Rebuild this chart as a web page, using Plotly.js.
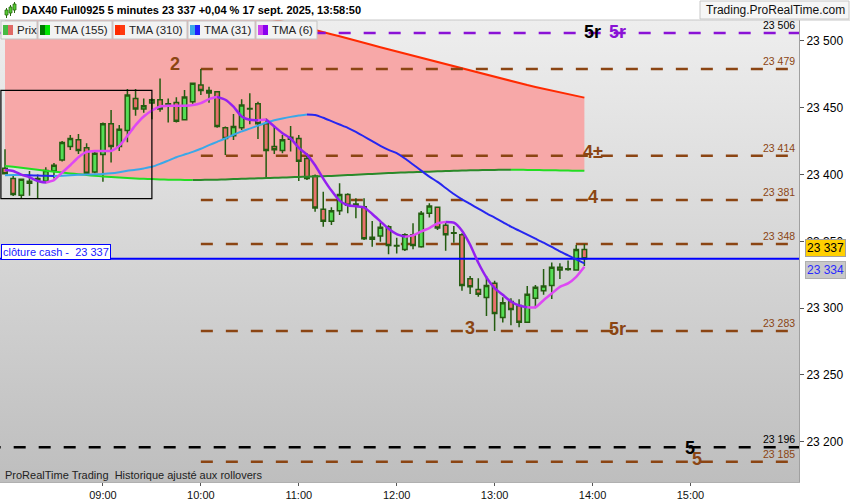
<!DOCTYPE html>
<html><head><meta charset="utf-8">
<script src="https://cdn.plot.ly/plotly-3.0.1.min.js"></script>
<style>html,body{margin:0;padding:0;background:#fff}#chart{width:850px;height:500px}</style>
</head><body><div id="chart"></div>
<script>
const day = '2025-09-17';
const times = [
 '08:00','08:05','08:10','08:15','08:20','08:25','08:30','08:35','08:40','08:45','08:50','08:55',
 '09:00','09:05','09:10','09:15','09:20','09:25','09:30','09:35','09:40','09:45','09:50','09:55',
 '10:00','10:05','10:10','10:15','10:20','10:25','10:30','10:35','10:40','10:45','10:50','10:55',
 '11:00','11:05','11:10','11:15','11:20','11:25','11:30','11:35','11:40','11:45','11:50','11:55',
 '12:00','12:05','12:10','12:15','12:20','12:25','12:30','12:35','12:40','12:45','12:50','12:55',
 '13:00','13:05','13:10','13:15','13:20','13:25','13:30','13:35','13:40','13:45','13:50','13:55'];
const openP = [
 23404.7,23397,23384.5,23395,23396,23395,23402.7,23411,23421,23426,23420,23402,
 23415,23438,23421,23433,23457,23449,23453.6,23456,23452,23454,23441,23454.6,
 23467,23463,23462,23435,23429,23435,23449,23453,23438,23421,23418,23426.5,
 23427,23412,23399,23374,23365,23373,23385,23377,23376,23351.6,23354,23361,
 23346.5,23344,23355,23346,23371,23375.5,23362,23356,23355,23322,23314,23308,
 23318.6,23293,23305,23302,23289.5,23307.4,23313,23317,23330.6,23329,23328.6,23344];
const highP = [
 23419,23399,23397,23402.7,23400,23405.5,23408.7,23425.2,23429.7,23430.4,23423.4,23417,
 23439,23448.4,23437.1,23464.1,23464,23457,23457,23472,23457,23457.9,23463.3,23469,
 23479,23465.8,23462.5,23436,23445.4,23456.4,23460.9,23454.6,23442,23436.4,23429.7,23436.4,
 23429.7,23416,23400,23387.2,23375.5,23393.5,23386,23382.3,23382.3,23365.3,23364.3,23362,
 23352.8,23356,23363.5,23372.8,23378.5,23376,23364,23361.5,23356,23324.1,23322.4,23324.1,
 23320.6,23308.2,23307.4,23306.7,23316.6,23317.4,23329.4,23334.1,23333.6,23335.6,23347.3,23348];
const lowP = [
 23400,23384,23382,23384.2,23382,23393.5,23397,23409.7,23418.4,23415.4,23400.2,23401,
 23394.7,23409,23417.7,23424.2,23444.1,23446.3,23441.4,23447,23439,23438.9,23441,23453,
 23459.6,23453.8,23435,23414.7,23425.9,23433.4,23437.7,23426.7,23397.2,23415.4,23416,23417.2,
 23395.2,23396,23372.2,23361,23362.3,23369.8,23371,23367.3,23351,23346,23349.8,23340.4,
 23341,23342.8,23344.1,23345.3,23367.8,23358.5,23343,23349,23313.1,23310.6,23308.6,23294.2,
 23283,23289.2,23287.2,23285.7,23289,23300,23310,23306.9,23321.9,23328.1,23328,23331.6];
const closeP = [
 23400.7,23385,23396.5,23393.5,23397,23403,23407,23424,23427,23418,23401,23416,
 23438,23421,23434,23459.5,23449,23451.5,23456,23449,23453,23440,23458,23468.4,
 23463,23461,23436,23427,23436,23452,23449.5,23438,23418,23418.5,23426,23428,
 23410,23397,23375,23365,23373,23385,23377,23378,23352,23353,23360.6,23347,
 23347,23355,23347,23371,23376.5,23360,23355,23356.5,23317,23316,23310.5,23317,
 23296,23304,23299,23289.5,23310.4,23315.7,23316.6,23330.6,23328.6,23329.5,23344,23337];
const tma6 = [
 23403.5,23402.7,23400,23398,23395.2,23394,23395.8,23401.5,23407,23413,23417,23417.7,
 23417.7,23417.7,23421.5,23429,23437,23443.5,23448,23451,23451.5,23451.5,23451.5,23452,
 23453.5,23456.5,23458.2,23456,23450.8,23443.5,23441,23440.7,23441.2,23436,23431,23427,
 23420,23415,23407,23397,23388,23380.5,23377,23376.3,23375.5,23370.5,23365,23359.5,
 23355.5,23353.5,23354.5,23357.5,23360,23363.5,23364.5,23364,23358,23347.5,23334,23323,
 23315,23310,23305,23302,23300.7,23300.7,23306,23311,23316,23318.6,23323.5,23331];
const tma31 = [
 23399.5,23399.6,23399.6,23399.5,23399.3,23399.1,23399.0,23399.2,23399.5,23399.8,23400,23400.2,
 23400.5,23401,23401.8,23402.8,23403.6,23404.6,23405.8,23408,23410.5,23413,23415,23417,
 23419.3,23422,23424.5,23427,23429.8,23432.3,23434.4,23436.6,23438.8,23440.6,23442,23443.2,
 23444.2,23445,23444.6,23442.5,23440,23437.5,23435,23432,23428.5,23425,23421.5,23418.5,
 23416,23412,23407.5,23403,23398.5,23394.5,23390,23385.5,23381.5,23378,23374.5,23371,
 23367.8,23364.5,23361,23358,23355,23352,23349,23345.8,23342.5,23339.5,23336.5,23333.6];
const tma155 = [
 23406.5,23405.8,23405.1,23404.3,23403.6,23402.9,23402.2,23401.5,23400.9,23400.3,23399.7,23399.1,
 23398.6,23398.2,23397.8,23397.4,23397.1,23396.8,23396.6,23396.4,23396.2,23396.1,23396.0,23395.9,
 23396.0,23396.1,23396.2,23396.4,23396.6,23396.8,23397.0,23397.2,23397.4,23397.6,23397.8,23398.0,
 23398.2,23398.4,23398.6,23398.8,23399.0,23399.3,23399.6,23399.9,23400.2,23400.5,23400.8,23401.1,
 23401.4,23401.6,23401.8,23402.0,23402.2,23402.4,23402.6,23402.8,23403.0,23403.2,23403.3,23403.4,
 23403.5,23403.6,23403.7,23403.6,23403.5,23403.4,23403.3,23403.2,23403.1,23403.0,23402.9,23402.8];
const tma310 = [
 23568.5,23566.9,23565.3,23563.7,23562.1,23560.5,23558.9,23557.3,23555.7,23554.1,23552.5,23550.9,
 23549.3,23547.7,23546.1,23544.5,23542.9,23541.3,23539.7,23538.1,23536.5,23534.9,23533.3,23531.7,
 23530.1,23528.5,23526.9,23525.3,23523.7,23522.1,23520.5,23518.9,23517.3,23515.7,23514.1,23512.5,
 23511,23509.5,23508,23506.5,23505,23503.5,23502,23500,23498.5,23497,23495.3,23493.7,
 23492,23490.5,23488.8,23487.2,23485.6,23484,23482.4,23480.8,23479.2,23477.6,23476,23474.5,
 23473,23471.5,23470,23468.5,23467,23465.6,23464.2,23462.8,23461.4,23460,23458.8,23457.6];
const hourTicks = ['09:00','10:00','11:00','12:00','13:00','14:00','15:00'];
const levelValues = [23506, 23479, 23414, 23381, 23348, 23283, 23196, 23185];
const levelTexts  = ['23 506','23 479','23 414','23 381','23 348','23 283','23 196','23 185'];
const closeCash = 23337;
const closeCashText = 'clôture cash -  23 337';
const lastPriceText = '23 337';
const lastTma31Text = '23 334';
const rangeBox = {start:'07:57:30', end:'09:30', low:23382, high:23463};
const markTexts = ['5r','5r','2','4±','4','3','5r','5','5'];
const markLevels = [23506, 23506, 23479, 23414, 23381, 23283, 23283, 23196, 23185];
const legendNames = ['Prix','TMA (155)','TMA (310)','TMA (31)','TMA (6)'];
const titleText = 'DAX40 Full0925 5 minutes 23 337 +0,04 % 17 sept. 2025, 13:58:50';
const footText = 'ProRealTime Trading  Historique ajusté aux rollovers';
const siteText = 'Trading.ProRealTime.com';

// ---------- styles / positions ----------
const FONT = 'Liberation Sans, Arial, sans-serif';
const BROWN = '#8b4513';
const X = times.map(t => day + ' ' + t);
const T = t => day + ' ' + t;
const fx = px => px / 799;
const fy = py => (482 - py) / 462;

const levelStyle = [
  {color:'#8a12d6', start:'07:50', text:'#000'},
  {color:BROWN, start:'10:00', text:BROWN},
  {color:BROWN, start:'10:00', text:BROWN},
  {color:BROWN, start:'10:00', text:BROWN},
  {color:BROWN, start:'10:00', text:BROWN},
  {color:BROWN, start:'10:00', text:BROWN},
  {color:'#000', start:'07:50', text:'#000'},
  {color:BROWN, start:'10:00', text:BROWN}
];
const markStyle = [
  {t:'14:00', color:'#000', ys:1},
  {t:'14:15', color:'#8a12d6', ys:1},
  {t:'09:44', color:BROWN, ys:5},
  {t:'14:00', color:BROWN, ys:4},
  {t:'14:00', color:BROWN, ys:3},
  {t:'12:45', color:BROWN, ys:3},
  {t:'14:15', color:BROWN, ys:2},
  {t:'15:00', color:'#000', ys:-1},
  {t:'15:04', color:BROWN, ys:3}
];

const traces = [];
// subplot 1 : band fill + levels (below candles)
traces.push({type:'scatter', mode:'lines', x:X, y:tma155, line:{width:0, color:'rgba(0,0,0,0)'},
  hoverinfo:'skip', showlegend:false, xaxis:'x', yaxis:'y'});
traces.push({type:'scatter', mode:'lines', x:X, y:tma310, fill:'tonexty', fillcolor:'#f7a8a8',
  line:{color:'#ff2a00', width:2}, hoverinfo:'skip', showlegend:false, xaxis:'x', yaxis:'y'});
levelValues.forEach((v, i) => {
  traces.push({type:'scatter', mode:'lines', x:[T(levelStyle[i].start), T('16:30')], y:[v, v],
    line:{color:levelStyle[i].color, width:2.5, dash:'12px,13px'}, hoverinfo:'skip', showlegend:false,
    xaxis:'x', yaxis:'y'});
});

// subplot 2 : candles + lines
traces.push({type:'candlestick', x:X, open:openP, high:highP, low:lowP, close:closeP,
  increasing:{line:{color:'#245c10', width:1.5}, fillcolor:'#55dd55'},
  decreasing:{line:{color:'#245c10', width:1.5}, fillcolor:'#e8716c'},
  whiskerwidth:0, hoverinfo:'skip', showlegend:false, xaxis:'x2', yaxis:'y2'});
traces.push({type:'scatter', mode:'lines', x:[T('07:50'), T('16:30')], y:[closeCash, closeCash],
  line:{color:'#0000ff', width:2}, hoverinfo:'skip', showlegend:false, xaxis:'x2', yaxis:'y2'});

function segs(vals, upColor, downColor, width) {
  let i = 0;
  while (i < vals.length - 1) {
    const d = vals[i + 1] >= vals[i];
    let j = i;
    while (j < vals.length - 1 && (vals[j + 1] >= vals[j]) === d) j++;
    traces.push({type:'scatter', mode:'lines', x:X.slice(i, j + 1), y:vals.slice(i, j + 1),
      line:{color: d ? upColor : downColor, width:width, shape:'spline', smoothing:0.6},
      hoverinfo:'skip', showlegend:false, xaxis:'x2', yaxis:'y2'});
    i = j;
  }
}
segs(tma155, '#2a8a2a', '#22dd22', 2);
segs(tma31, '#3aa8e8', '#2626f0', 2);
segs(tma6, '#de48f4', '#9420f0', 2.5);

// ---------- shapes ----------
const shapes = [];
shapes.push({type:'rect', xref:'x2', yref:'y2', x0:T(rangeBox.start), x1:T(rangeBox.end),
  y0:rangeBox.low, y1:rangeBox.high, line:{color:'#000', width:1.2}, layer:'above'});
// header
shapes.push({type:'rect', xref:'paper', yref:'paper', x0:fx(0), x1:fx(850), y0:fy(20), y1:fy(0),
  fillcolor:'#ffffff', line:{width:0}, layer:'above'});
shapes.push({type:'line', xref:'paper', yref:'paper', x0:fx(0), x1:fx(850), y0:fy(20), y1:fy(20),
  line:{color:'#c8c8c8', width:1}, layer:'above'});
shapes.push({type:'rect', xref:'paper', yref:'paper', x0:fx(700), x1:fx(849), y0:fy(19), y1:fy(1),
  fillcolor:'#f6f6f6', line:{color:'#c8c8c8', width:1}, layer:'above'});
// header icon (small candles)
[[5,8,10,15],[9,12,7,13],[13,16,4,10]].forEach(c => {
  shapes.push({type:'line', xref:'paper', yref:'paper', x0:fx((c[0]+c[1])/2), x1:fx((c[0]+c[1])/2),
    y0:fy(c[3]+3), y1:fy(c[2]-2), line:{color:'#2a6a10', width:1}, layer:'above'});
  shapes.push({type:'rect', xref:'paper', yref:'paper', x0:fx(c[0]), x1:fx(c[1]), y0:fy(c[3]), y1:fy(c[2]),
    fillcolor:'#55cc33', line:{color:'#2a6a10', width:0.8}, layer:'above'});
});
// legend boxes
const legBoxes = [[1,37],[38,112],[113,187],[188,255],[256,317]];
const legIcons = [['#44bb44','#e06a66'],['#007a00','#00e600'],['#ff2a00','#ff3a10'],['#3aa8e8','#2020ff'],['#cc44ee','#8a00ee']];
legBoxes.forEach((b, i) => {
  shapes.push({type:'rect', xref:'paper', yref:'paper', x0:fx(b[0]), x1:fx(b[1]), y0:fy(39), y1:fy(21),
    fillcolor:'#f2f2f2', line:{color:'#c4c4c4', width:1}, layer:'above'});
  shapes.push({type:'rect', xref:'paper', yref:'paper', x0:fx(b[0]+2), x1:fx(b[0]+7), y0:fy(35), y1:fy(25),
    fillcolor:legIcons[i][0], line:{width:0}, layer:'above'});
  shapes.push({type:'rect', xref:'paper', yref:'paper', x0:fx(b[0]+7), x1:fx(b[0]+12), y0:fy(35), y1:fy(25),
    fillcolor:legIcons[i][1], line:{width:0}, layer:'above'});
});

// ---------- annotations ----------
const ann = [];
legendNames.forEach((n, i) => {
  ann.push({xref:'paper', yref:'paper', x:fx(legBoxes[i][0]+14), y:fy(30), xanchor:'left', yanchor:'middle',
    text:n, showarrow:false, font:{family:FONT, size:11.5, color:'#222'}});
});
ann.push({xref:'paper', yref:'paper', x:fx(775), y:fy(10.5), xanchor:'center', yanchor:'middle',
  text:siteText, showarrow:false, font:{family:FONT, size:12, color:'#111'}});
ann.push({xref:'paper', yref:'paper', x:fx(3), y:fy(475), xanchor:'left', yanchor:'middle',
  text:footText, showarrow:false, font:{family:FONT, size:11, color:'#222'}});
levelValues.forEach((v, i) => {
  ann.push({xref:'paper', yref:'y', x:fx(797), y:v, xanchor:'right', yanchor:'bottom', yshift:0,
    text:levelTexts[i], showarrow:false, font:{family:FONT, size:10.5, color:levelStyle[i].text}});
});
markTexts.forEach((m, i) => {
  ann.push({xref:'x', yref:'y', x:T(markStyle[i].t), y:markLevels[i], xanchor:'center', yanchor:'middle',
    yshift:markStyle[i].ys, text:'<b>' + m + '</b>', showarrow:false,
    font:{family:FONT, size:18, color:markStyle[i].color}});
});
ann.push({xref:'paper', yref:'y', x:fx(1), y:closeCash, xanchor:'left', yanchor:'bottom', yshift:-1,
  text:closeCashText, showarrow:false, bgcolor:'#ffffff', bordercolor:'#0000ff', borderwidth:1, borderpad:1,
  font:{family:FONT, size:11, color:'#2020ff'}});
ann.push({xref:'paper', yref:'y', x:fx(805), y:closeCash, xanchor:'left', yanchor:'middle', yshift:11,
  text:lastPriceText, showarrow:false, bgcolor:'#ffd000', bordercolor:'#a0a0a0', borderwidth:1, borderpad:1,
  font:{family:FONT, size:12, color:'#000'}});
ann.push({xref:'paper', yref:'y', x:fx(805), y:tma31[tma31.length-1], xanchor:'left', yanchor:'middle', yshift:-7,
  text:lastTma31Text, showarrow:false, bgcolor:'#c8c8c8', bordercolor:'#b0b0b0', borderwidth:1, borderpad:1,
  font:{family:FONT, size:12, color:'#2a2aff'}});

const bgSvg = '<svg xmlns="http://www.w3.org/2000/svg" width="10" height="100" preserveAspectRatio="none">' +
  '<defs><linearGradient id="g" x1="0" y1="0" x2="0" y2="1"><stop offset="0" stop-color="#eeeeee"/>' +
  '<stop offset="1" stop-color="#bebebe"/></linearGradient></defs><rect width="10" height="100" fill="url(#g)"/></svg>';

const yRange = [23169.9, 23515.7];
const xRange = [T('07:56:56'), T('16:06:30')];
const layout = {
  width:850, height:500,
  margin:{l:0, r:51, t:20, b:18},
  paper_bgcolor:'#ffffff', plot_bgcolor:'#d6d6d6',
  separators:', ',
  showlegend:false,
  boxgap:0.22,
  font:{family:FONT, color:'#000'},
  title:{text:'<b>' + titleText + '</b>', x:22/850, xanchor:'left', xref:'container', y:1-10.5/500, yanchor:'middle',
    font:{family:FONT, size:11, color:'#000'}},
  xaxis:{type:'date', range:xRange, tickvals:hourTicks.map(T), ticktext:hourTicks, ticks:'outside', ticklen:3,
    tickcolor:'#555', showline:true, linecolor:'#b0b0b0', showgrid:false, zeroline:false,
    tickfont:{family:FONT, size:11, color:'#111'}, rangeslider:{visible:false}, fixedrange:true},
  xaxis2:{type:'date', range:xRange, overlaying:'x', visible:false, rangeslider:{visible:false}, fixedrange:true},
  yaxis:{side:'right', range:yRange, dtick:50, tick0:0, tickformat:',d', ticks:'outside', ticklen:4,
    tickcolor:'#555', showline:true, linecolor:'#a0a0a0', showgrid:false, zeroline:false,
    tickfont:{family:FONT, size:12, color:'#000'}, fixedrange:true},
  yaxis2:{range:yRange, overlaying:'y', visible:false, fixedrange:true},
  images:[{source:'data:image/svg+xml;charset=utf-8,' + encodeURIComponent(bgSvg), xref:'paper', yref:'paper',
    x:0, y:1, sizex:1, sizey:1, xanchor:'left', yanchor:'top', sizing:'stretch', layer:'below'}],
  shapes:shapes,
  annotations:ann
};
Plotly.newPlot('chart', traces, layout, {displayModeBar:false, staticPlot:true});
</script>
</body></html>
